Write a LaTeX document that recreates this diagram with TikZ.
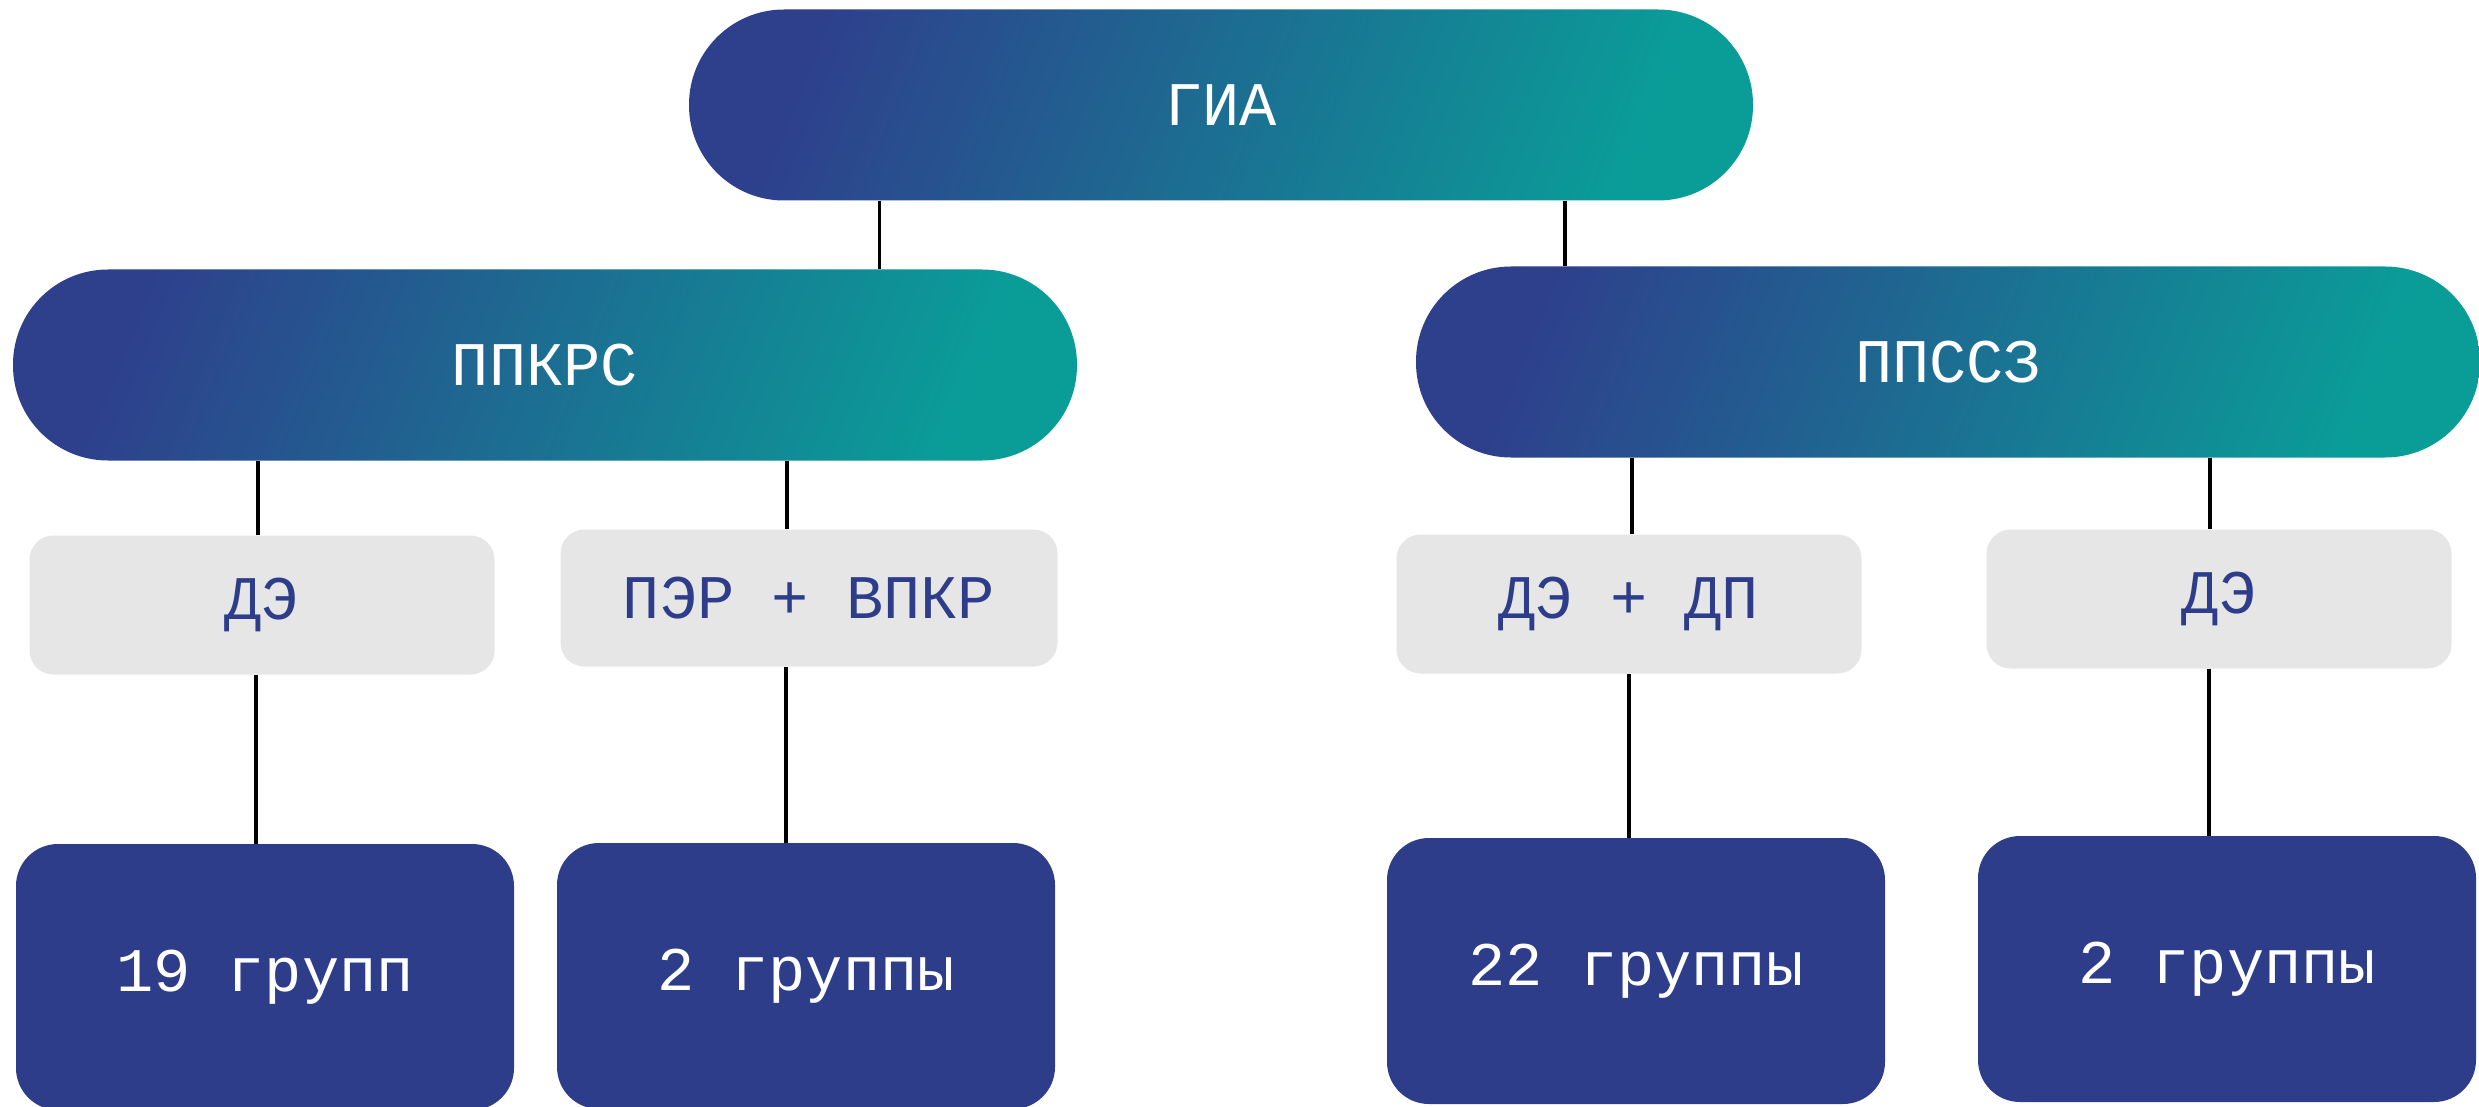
\documentclass[tikz,border=0pt]{standalone}
\usepackage{fontspec}
\setmainfont{Liberation Mono}
\usetikzlibrary{calc}
\definecolor{giadark}{HTML}{2E3F8C}
\definecolor{giateal}{HTML}{0A9D98}
\definecolor{giagrey}{HTML}{E6E6E6}
\definecolor{giablue}{HTML}{2E3D8A}

\begin{document}
\begin{tikzpicture}[x=1pt,y=-1pt,font=\fontsize{62}{70}\selectfont,
   pill/.style={rectangle,rounded corners=95pt,minimum width=1064pt,minimum height=191pt,
     left color=giadark,right color=giateal,shading angle=68,text=white},
   exam/.style={rectangle,rounded corners=24pt,fill=giagrey,minimum width=465pt,
     minimum height=139pt,text=giablue},
   groups/.style={rectangle,rounded corners=42pt,fill=giablue,minimum width=498pt,
     minimum height=266pt,text=white},
   link/.style={line width=3.5pt}]
   \useasboundingbox (0,0) rectangle (2479,1107);

   \node[pill] (gia) at (1221,105) {ГИА};
   \node[pill] (ppkrs) at (545,365) {ППКРС};
   \node[pill] (ppssz) at (1948,362) {ППССЗ};

   \node[exam] (de1) at (262,605) {ДЭ};
   \node[exam,minimum width=497pt,minimum height=137pt] (per) at (809,598) {ПЭР + ВПКР};
   \node[exam] (dedp) at (1629,604) {ДЭ + ДП};
   \node[exam] (de2) at (2219,599) {ДЭ};

   \node[groups] (n19) at (265,977) {19 групп};
   \node[groups] (n2a) at (806,976) {2 группы};
   \node[groups] (n22) at (1636,971) {22 группы};
   \node[groups] (n2b) at (2227,969) {2 группы};

   \draw[link] ($(gia.south west)!0.179!(gia.south east)$) coordinate (g1) -- (g1 |- ppkrs.north);
   \draw[link] ($(gia.south west)!0.823!(gia.south east)$) coordinate (g2) -- (g2 |- ppssz.north);
   \draw[link] ([xshift=-4pt]de1.north) -- ([xshift=-4pt]de1.north |- ppkrs.south);
   \draw[link] ([xshift=-22pt]per.north) -- ([xshift=-22pt]per.north |- ppkrs.south);
   \draw[link] ([xshift=3pt]dedp.north) -- ([xshift=3pt]dedp.north |- ppssz.south);
   \draw[link] ([xshift=-9pt]de2.north) -- ([xshift=-9pt]de2.north |- ppssz.south);

   \foreach \a/\b/\s in {de1/n19/-6, per/n2a/-23, dedp/n22/0, de2/n2b/-10}
     \draw[link] ([xshift=\s pt]\a.south) -- ([xshift=\s pt]\a.south |- \b.north);
\end{tikzpicture}
\end{document}
